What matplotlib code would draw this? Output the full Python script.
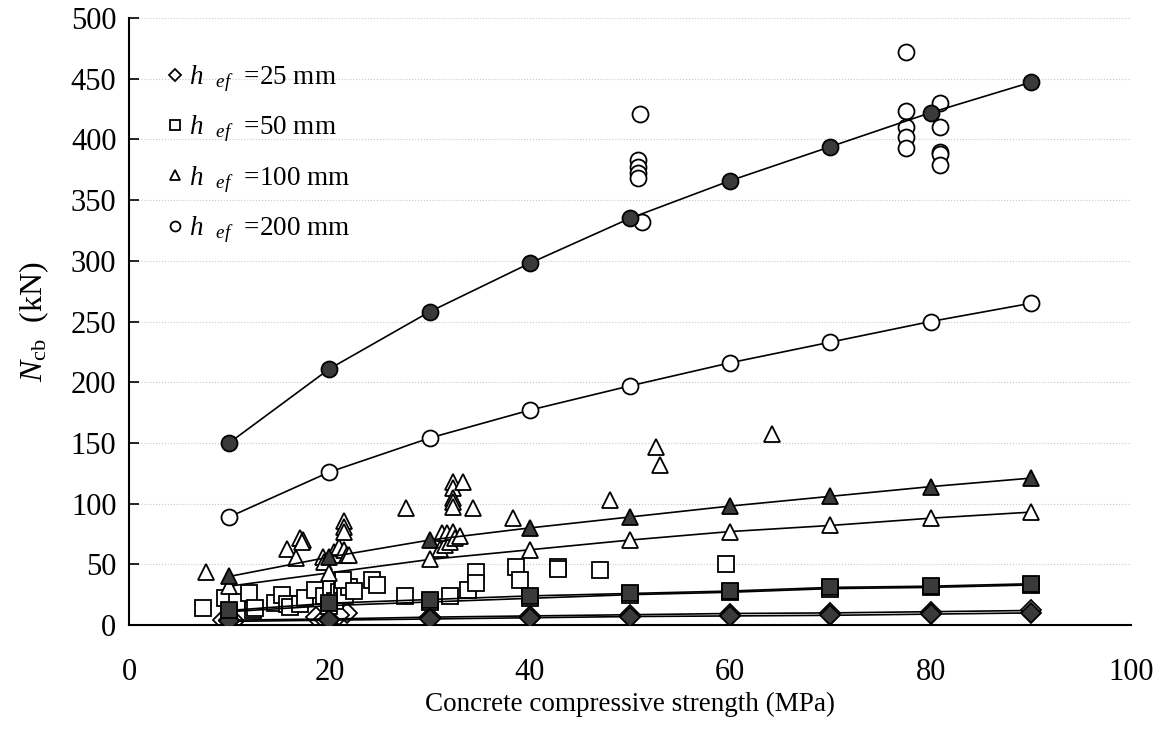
import matplotlib
matplotlib.use("Agg")
import matplotlib.pyplot as plt

plt.rcParams["font.family"] = ["Liberation Serif", "DejaVu Serif"]
plt.rcParams["mathtext.fontset"] = "custom"
plt.rcParams["mathtext.rm"] = "Liberation Serif"
plt.rcParams["mathtext.it"] = "Liberation Serif:italic"

# model predictions (filled = one model, open = another)
fc = [10, 20, 30, 40, 50, 60, 70, 80, 90]
circ_fill = [150, 211, 258, 298, 335, 366, 394, 422, 447]
circ_open = [89, 126, 154, 177, 197, 216, 233, 250, 265]
tri_fill = [40, 56, 70, 80, 89, 98, 106, 114, 121]
tri_open = [32, 43, 54, 62, 70, 77, 82, 88, 93]
sq_fill = [12, 18, 21, 24, 26, 28, 31, 32, 34]
sq_open = [11, 16, 19, 22, 25, 27, 30, 31, 33]
dia_fill = [3, 4, 5, 6, 7, 7.5, 8, 9, 10]
dia_open = [4, 5, 6.5, 7.5, 8.5, 9.5, 10, 11, 12]

# test data
dia_x = [9.4, 10.5, 18.7, 19.5, 20.5, 21.8, 21.0]
dia_y = [4, 3, 7, 5, 6, 10, 8]

sq_x = [7.4, 9.6, 10.8, 12.0, 12.4, 12.6, 14.6, 15.3, 15.8, 16.1, 17.1, 17.6,
        18.6, 19.5, 20.2, 20.6, 21.0, 21.3, 21.6, 22.0, 21.4, 22.5, 24.3, 24.8,
        27.5, 32.0, 33.8, 34.6, 34.6, 38.6, 39.0, 42.8, 42.8, 47.0, 59.6]
sq_y = [14, 22, 19, 26, 12, 14, 18, 25, 17, 15, 17, 22,
        29, 24, 30, 20, 27, 33, 25, 31, 37, 28, 37, 33,
        24, 24, 29, 44, 35, 48, 37, 48, 46, 45, 50]

tri_x = [7.7, 15.8, 16.7, 17.1, 17.4, 17.3, 19.4, 19.5, 20.5, 20.9, 21.0, 21.5,
         21.8, 21.5, 21.5, 21.5, 22.0, 27.6, 31.0, 31.2, 31.5, 31.7, 32.0, 32.3,
         32.5, 33.0, 32.3, 32.3, 32.3, 32.3, 32.3, 33.3, 34.3, 38.3, 48.0, 52.6,
         53.0, 64.2]
tri_y = [44, 63, 55, 72, 70, 68, 56, 52, 60, 58, 64, 62,
         58, 86, 81, 77, 58, 96, 63, 76, 66, 76, 68, 77,
         72, 73, 118, 113, 105, 101, 97, 118, 96, 88, 103, 147,
         132, 157]

circ_x = [51.0, 50.8, 50.8, 50.8, 50.8, 51.2, 77.5, 77.5, 77.5, 77.5, 77.5,
          80.9, 80.9, 80.9, 80.9, 80.9]
circ_y = [421, 383, 377, 372, 368, 332, 472, 423, 410, 402, 393,
          430, 410, 390, 388, 379]

labels = ["=25 mm", "=50 mm", "=100 mm", "=200 mm"]

fig = plt.figure(figsize=(11.66, 7.49), dpi=100)
ax = fig.add_axes([0.1106, 0.1655, 0.8594, 0.8105])

dark = "#3a3a3a"
ms = 11.5
mew = 1.3

open_kw = dict(linestyle="none", markerfacecolor="white", markeredgecolor="black",
               markeredgewidth=mew, markersize=ms)

h1, = ax.plot(dia_x, dia_y, marker="D", **dict(open_kw, markersize=ms * 0.9))
h2, = ax.plot(sq_x, sq_y, marker="s", **dict(open_kw, markersize=ms * 0.95))
h3, = ax.plot(tri_x, tri_y, marker="^", **open_kw)
h4, = ax.plot(circ_x, circ_y, marker="o", **open_kw)

line_kw = dict(color="black", linewidth=1.2, markeredgecolor="black",
               markeredgewidth=mew, zorder=4)
for ys, mk, s in [(dia_open, "D", 0.9), (sq_open, "s", 0.95), (tri_open, "^", 1.0), (circ_open, "o", 1.0)]:
    ax.plot(fc, ys, marker=mk, markerfacecolor="white", markersize=ms * s, **line_kw)
for ys, mk, s in [(dia_fill, "D", 0.9), (sq_fill, "s", 0.95), (tri_fill, "^", 1.0), (circ_fill, "o", 1.0)]:
    ax.plot(fc, ys, marker=mk, markerfacecolor=dark, markersize=ms * s, **line_kw)

ax.set_xlim(0, 100)
ax.set_ylim(0, 500)
ax.set_xticks(range(0, 101, 20))
ax.set_yticks(range(0, 501, 50))
ax.yaxis.grid(True, color="#c8c8c8", linestyle=":", linewidth=0.8)
ax.set_axisbelow(True)

for side in ["top", "right"]:
    ax.spines[side].set_visible(False)
for side in ["left", "bottom"]:
    ax.spines[side].set_linewidth(1.5)

ax.tick_params(axis="y", direction="in", length=7, width=1.2, labelsize=22, pad=9)
ax.tick_params(axis="x", length=0, labelsize=22, pad=24)

ax.set_xlabel("Concrete compressive strength (MPa)", fontsize=19.5, labelpad=3)
ax.set_ylabel(r"$N_{\mathrm{cb}}$  (kN)", fontsize=23, labelpad=14)

ax.legend([h1, h2, h3, h4], [r"$h\ \ {}_{ef}$  " + s for s in labels],
          loc="upper left", bbox_to_anchor=(0.014, 0.965),
          frameon=False, fontsize=19.5, markerscale=0.62, handlelength=0.6,
          handletextpad=0.2, labelspacing=0.72)

fig.savefig("out.png", dpi=100)
